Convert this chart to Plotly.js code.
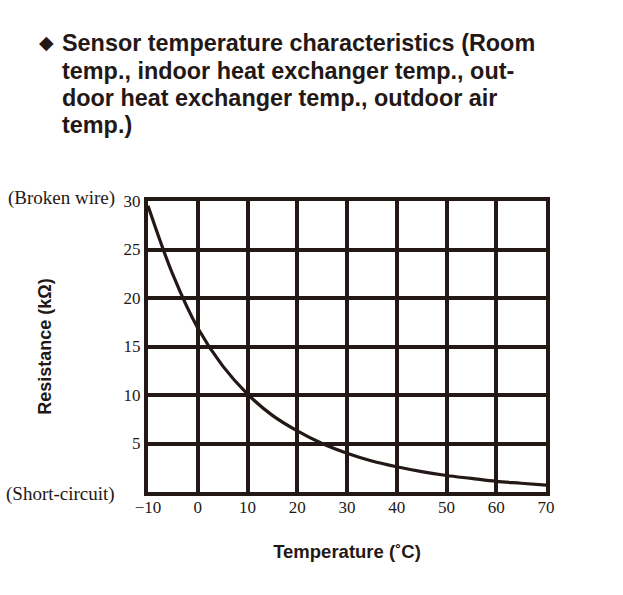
<!DOCTYPE html>
<html>
<head>
<meta charset="utf-8">
<script src="https://cdn.plot.ly/plotly-3.0.1.min.js"></script>
<style>
  html, body { margin: 0; padding: 0; background: #fff; }
  #chart { width: 623px; height: 595px; }
</style>
</head>
<body>
<div id="chart"></div>
<script>
// temperature (degC) vs sensor resistance (kOhm)
var temps = [-10, -5, 0, 5, 10, 15, 20, 25, 30, 35, 40, 45, 50, 55, 60, 65, 70];
var resistance = [29.5, 22.4, 16.9, 13.0, 10.1, 7.9, 6.3, 5.0, 4.0, 3.2, 2.6, 2.1, 1.7, 1.4, 1.1, 0.9, 0.7];

var xTicks = [-10, 0, 10, 20, 30, 40, 50, 60, 70];
var xTickText = ['\u221210', '0', '10', '20', '30', '40', '50', '60', '70'];
var yTicks = [5, 10, 15, 20, 25, 30];

var titleLines = [
  'Sensor temperature characteristics (Room',
  'temp., indoor heat exchanger temp., out-',
  'door heat exchanger temp., outdoor air',
  'temp.)'
];
var titleLineY = [1.543, 1.447, 1.354, 1.261];   // paper y of each heading line

var INK = '#231815';

var trace = {
  x: temps,
  y: resistance,
  type: 'scatter',
  mode: 'lines',
  line: { color: INK, width: 3.2, shape: 'spline', smoothing: 1 },
  hoverinfo: 'x+y'
};

var annots = [
  {
    text: '\u25C6', xref: 'paper', yref: 'paper', x: -0.279, y: 1.545,
    xanchor: 'left', yanchor: 'middle', showarrow: false,
    font: { family: 'DejaVu Sans', size: 19, color: INK }
  },
  {
    text: '(Broken wire)', xref: 'paper', yref: 'paper', x: -0.077, y: 1.01,
    xanchor: 'right', yanchor: 'middle', showarrow: false,
    font: { family: 'Liberation Serif', size: 19, color: INK }
  },
  {
    text: '(Short-circuit)', xref: 'paper', yref: 'paper', x: -0.077, y: -0.008,
    xanchor: 'right', yanchor: 'middle', showarrow: false,
    font: { family: 'Liberation Serif', size: 19, color: INK }
  }
];

for (var i = 0; i < titleLines.length; i++) {
  annots.push({
    text: titleLines[i], xref: 'paper', yref: 'paper', x: -0.222, y: titleLineY[i],
    xanchor: 'left', yanchor: 'middle', align: 'left', showarrow: false,
    font: { family: 'Liberation Sans', size: 23.4, color: INK, weight: 'bold' }
  });
}

var layout = {
  width: 623,
  height: 595,
  margin: { l: 148, r: 77, t: 201, b: 103, pad: 0 },
  paper_bgcolor: '#fff',
  plot_bgcolor: '#fff',
  showlegend: false,
  xaxis: {
    range: [-10, 70],
    tickvals: xTicks,
    ticktext: xTickText,
    ticks: '',
    ticklabelstandoff: -3,
    showgrid: true,
    gridcolor: INK,
    gridwidth: 4,
    zeroline: false,
    showline: true,
    linecolor: INK,
    linewidth: 4,
    mirror: true,
    tickfont: { family: 'Liberation Serif', size: 17, color: INK },
    title: {
      text: 'Temperature (\u02DAC)',
      standoff: 30,
      font: { family: 'Liberation Sans', size: 18.5, color: INK, weight: 'bold' }
    }
  },
  yaxis: {
    range: [0, 30],
    tickvals: yTicks,
    ticks: '',
    showgrid: true,
    gridcolor: INK,
    gridwidth: 4,
    zeroline: false,
    showline: true,
    linecolor: INK,
    linewidth: 4,
    mirror: true,
    tickfont: { family: 'Liberation Serif', size: 17, color: INK },
    title: {
      text: 'Resistance (k\u03A9)',
      standoff: 68,
      font: { family: 'Liberation Sans', size: 18, color: INK, weight: 'bold' }
    }
  },
  annotations: annots
};

Plotly.newPlot('chart', [trace], layout, { displayModeBar: false, staticPlot: true });
</script>
</body>
</html>
